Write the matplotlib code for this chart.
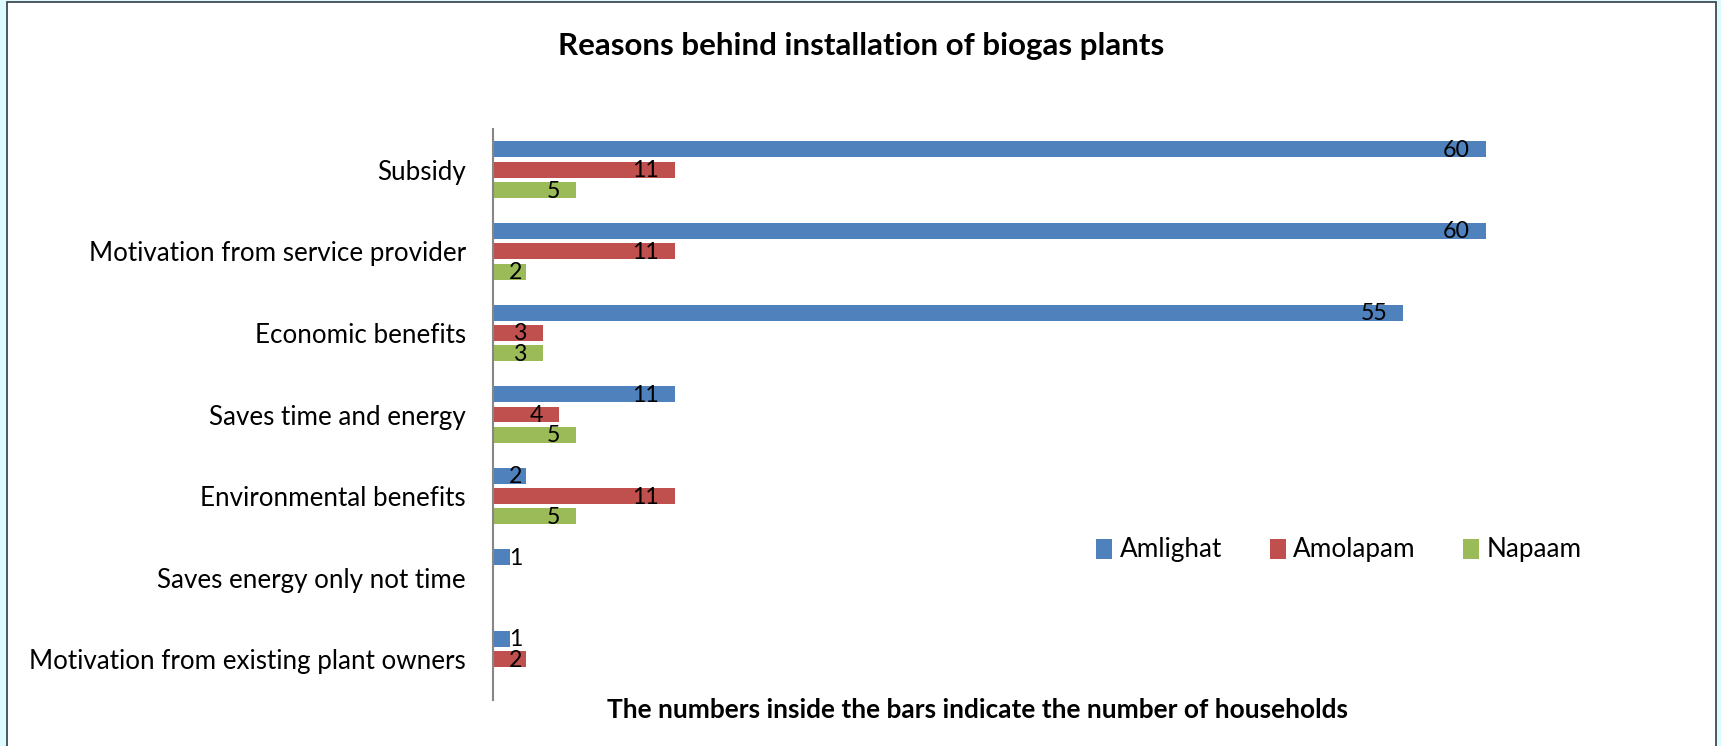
import matplotlib
matplotlib.use("Agg")
import matplotlib.pyplot as plt
from matplotlib.patches import Rectangle, Patch
import numpy as np

plt.rcParams["font.family"] = ["Lato", "DejaVu Sans"]

categories = ["Subsidy", "Motivation from service provider", "Economic benefits",
              "Saves time and energy", "Environmental benefits",
              "Saves energy only not time", "Motivation from existing plant owners"]
series_names = ["Amlighat", "Amolapam", "Napaam"]
amlighat = [60, 60, 55, 11, 2, 1, 1]
amolapam = [11, 11, 3, 4, 11, 0, 2]
napaam = [5, 2, 3, 5, 5, 0, 0]
colors = ["#4F81BD", "#C0504D", "#9BBB59"]
title = "Reasons behind installation of biogas plants"
footer = "The numbers inside the bars indicate the number of households"

W, H = 1721, 746
fig = plt.figure(figsize=(W / 100, H / 100), dpi=100, facecolor="#DDFAFD")
fig.patches.append(Rectangle((7 / W, -0.02), (1716 - 7) / W, 744.3 / H + 0.02,
                             transform=fig.transFigure, facecolor="white",
                             edgecolor="#404A55", linewidth=1.3, zorder=-5))

ax_l, ax_r, ax_t, ax_b = 493, 1651.5, 129, 700
ax = fig.add_axes([ax_l / W, (H - ax_b) / H, (ax_r - ax_l) / W, (ax_b - ax_t) / H])
ax.set_facecolor("none")
ax.set_zorder(2)

xmax = 70
px_per_unit = (ax_r - ax_l) / xmax
y = np.arange(len(categories))
series = [amlighat, amolapam, napaam]
offsets = [-0.25, 0.0, 0.25]
bar_h = 0.196
label_texts = []
for vals, name, col, off in zip(series, series_names, colors, offsets):
    ax.barh(y + off, vals, height=bar_h, color=col, label=name, zorder=2)
    for yi, v in zip(y, vals):
        if v <= 0:
            continue
        nd = len(str(v))
        w_units = nd * 13.5 / px_per_unit
        pad_units = 16 / px_per_unit
        cx = max(v - pad_units - w_units / 2, pad_units + w_units / 2)
        t = ax.text(cx, yi + off + 0.012, str(v), ha="center", va="center",
                    fontsize=17, color="black", zorder=3)
        label_texts.append(t)

ax.set_xlim(0, xmax)
ax.set_ylim(len(categories) - 0.5, -0.5)
for s in ["top", "right", "bottom"]:
    ax.spines[s].set_visible(False)
ax.spines["left"].set_color("#868686")
ax.spines["left"].set_linewidth(1.5)
ax.set_xticks([])
ax.set_yticks(y, categories)
ax.tick_params(axis="y", length=0, pad=19.4, labelsize=18)

ttl = fig.text(861 / W, 1 - 46 / H, title, ha="center", va="center",
               fontsize=20, fontweight="bold")
ftr = fig.text(978 / W, 1 - 710 / H, footer, ha="center", va="center",
               fontsize=17, fontweight="bold")

handles = [Patch(facecolor=c, label=n) for c, n in zip(colors, series_names)]
leg = fig.legend(handles=handles, loc="center", bbox_to_anchor=(1339 / W, 1 - 550 / H),
                 ncol=3, frameon=False, fontsize=18, handlelength=0.64, handleheight=0.9,
                 handletextpad=0.3, columnspacing=1.9, borderpad=0)


def fit(texts, target):
    fig.canvas.draw()
    r = fig.canvas.get_renderer()
    w = max(t.get_window_extent(r).width for t in texts)
    for t in texts:
        t.set_fontsize(t.get_fontsize() * target / w)


fit([ttl], 606)
fit([ftr], 742)
tl = ax.get_yticklabels()
fig.canvas.draw()
longest = [t for t in tl if t.get_text() == "Motivation from existing plant owners"]
r = fig.canvas.get_renderer()
wl = longest[0].get_window_extent(r).width
target_l = 466.5 - 31
ts = tl[0].get_fontsize() * target_l / wl
ax.tick_params(axis="y", labelsize=ts)
sixty = [t for t in label_texts if t.get_text() == "60"]
fig.canvas.draw()
w60 = sixty[0].get_window_extent(r).width
ls = sixty[0].get_fontsize() * 27 / w60
for t in label_texts:
    t.set_fontsize(ls)
leg_texts = leg.get_texts()
fig.canvas.draw()
wa = leg_texts[1].get_window_extent(r).width
for t in leg_texts:
    t.set_fontsize(t.get_fontsize() * 122 / wa)

fig.savefig("out.png", dpi=100, facecolor=fig.get_facecolor())
